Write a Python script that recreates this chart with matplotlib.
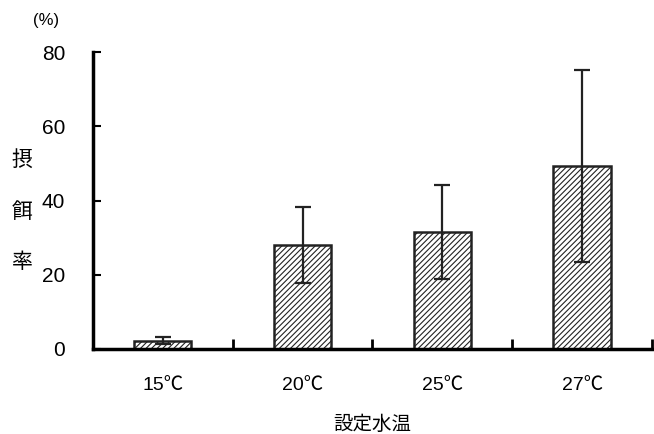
import matplotlib.pyplot as plt
import numpy as np

plt.rcParams['font.family'] = ['Liberation Sans', 'Noto Sans CJK JP', 'DejaVu Sans']
plt.rcParams['hatch.linewidth'] = 0.8

# データ
categories = ['15℃', '20℃', '25℃', '27℃']
feeding_rate = [2.2, 28.0, 31.5, 49.3]
err = [1.0, 10.2, 12.7, 26.0]

fig = plt.figure(figsize=(6.54, 4.34), dpi=100)
ax = fig.add_axes([0.142, 0.196, 0.855, 0.684])

x = np.arange(len(categories))
ax.bar(x, feeding_rate, width=0.41, color='white', edgecolor='#222222',
       linewidth=1.8, hatch='//////', zorder=2)
ax.errorbar(x, feeding_rate, yerr=err, fmt='none', ecolor='#222222',
            elinewidth=1.6, capsize=6, capthick=1.6, zorder=3)

ax.set_xlim(-0.5, 3.5)
ax.set_ylim(0, 80)
ax.set_yticks([0, 20, 40, 60, 80])
ax.tick_params(axis='y', direction='in', length=6, width=1.5, labelsize=15, pad=20)

# x軸の区切り目盛り
ax.set_xticks(x)
ax.set_xticklabels(categories, fontsize=14)
ax.tick_params(axis='x', length=0, pad=20)
ax.set_xticks([0.5, 1.5, 2.5, 3.5], minor=True)
ax.tick_params(axis='x', which='minor', direction='in', length=7, width=2)

for s in ['top', 'right']:
    ax.spines[s].set_visible(False)
ax.spines['left'].set_linewidth(2.5)
ax.spines['bottom'].set_linewidth(2.5)

fig.text(372 / 654, 1 - 424 / 434, '設定水温', fontsize=14, ha='center', va='center',
         family='Noto Sans CJK JP')
for ch, yy in zip('摂餌率', [160, 212, 262]):
    fig.text(22 / 654, 1 - yy / 434, ch, fontsize=15, va='center', ha='center',
             family='Noto Sans CJK JP')
fig.text(46 / 654, 1 - 21 / 434, '(%)', fontsize=12, ha='center', va='center')

fig.savefig('out.png', dpi=100)
